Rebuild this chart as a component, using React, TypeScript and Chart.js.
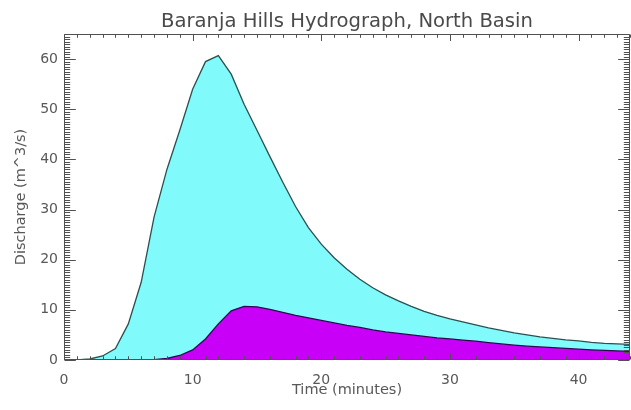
import { useEffect, useRef } from 'react';
import { Chart, registerables } from 'chart.js';

Chart.register(...registerables);

const TIME_MIN = [
  0, 1, 2, 3, 4, 5, 6, 7, 8, 9, 10, 11, 12, 13, 14, 15, 16, 17, 18, 19, 20, 21, 22,
  23, 24, 25, 26, 27, 28, 29, 30, 31, 32, 33, 34, 35, 36, 37, 38, 39, 40, 41, 42, 43, 44,
];
const TOTAL_Q = [
  0, 0, 0.2, 0.8, 2.3, 7.2, 15.5, 28.5, 38, 45.8, 54, 59.5, 60.7, 57, 51, 45.8, 40.6, 35.5,
  30.6, 26.4, 23.1, 20.4, 18.1, 16.1, 14.4, 13, 11.8, 10.7, 9.7, 8.9, 8.2, 7.6, 7.0, 6.4,
  5.9, 5.4, 5.0, 4.6, 4.3, 4.0, 3.8, 3.5, 3.3, 3.2, 3.1,
];
const BASE_Q = [
  0, 0, 0, 0, 0, 0, 0, 0.05, 0.3, 0.9, 2, 4.2, 7.2, 9.8, 10.7, 10.6, 10.1, 9.5, 8.9,
  8.4, 7.9, 7.4, 6.9, 6.5, 6.0, 5.6, 5.3, 5.0, 4.7, 4.4, 4.2, 3.95, 3.75, 3.45, 3.2,
  2.95, 2.75, 2.6, 2.45, 2.3, 2.15, 2.0, 1.9, 1.8, 1.7,
];
const X_TICKS = [0, 10, 20, 30, 40];
const Y_TICKS = [0, 10, 20, 30, 40, 50, 60];
const X_MINOR_STEP = 1;
const Y_MINOR_STEP = 0.5;
const X_RANGE = [0, 44];
const Y_RANGE = [0, 65];
const TITLE = 'Baranja Hills Hydrograph, North Basin';
const X_TITLE = 'Time (minutes)';
const Y_TITLE = 'Discharge (m^3/s)';

const AXIS_COLOR = '#505050';
const TEXT_COLOR = '#585858';
const FONT = 'DejaVu Sans';

const boxPlugin = {
  id: 'idlBox',
  afterDatasetsDraw(chart: any) {
    const { ctx, chartArea: a, scales } = chart;
    const xs = scales.x;
    const ys = scales.y;
    const left = Math.round(a.left) + 0.5;
    const right = Math.round(a.right) - 0.5;
    const top = Math.round(a.top) + 0.5;
    const bottom = Math.round(a.bottom) - 0.5;
    const w = a.right - a.left;
    const h = a.bottom - a.top;
    const xMajLen = 0.02 * h;
    const yMajLen = 0.02 * w;
    ctx.save();
    ctx.strokeStyle = AXIS_COLOR;
    ctx.lineWidth = 1;
    ctx.beginPath();
    const nx = Math.round((X_RANGE[1] - X_RANGE[0]) / X_MINOR_STEP);
    for (let i = 0; i <= nx; i++) {
      const v = X_RANGE[0] + i * X_MINOR_STEP;
      const major = X_TICKS.some((t) => Math.abs(t - v) < 1e-6);
      const len = major ? xMajLen : xMajLen / 2;
      const px = Math.round(xs.getPixelForValue(v)) + 0.5;
      ctx.moveTo(px, bottom);
      ctx.lineTo(px, bottom - len);
      ctx.moveTo(px, top);
      ctx.lineTo(px, top + len);
    }
    const ny = Math.round((Y_RANGE[1] - Y_RANGE[0]) / Y_MINOR_STEP);
    for (let i = 0; i <= ny; i++) {
      const v = Y_RANGE[0] + i * Y_MINOR_STEP;
      const major = Y_TICKS.some((t) => Math.abs(t - v) < 1e-6);
      const len = major ? yMajLen : yMajLen / 2;
      const py = Math.round(ys.getPixelForValue(v)) + 0.5;
      ctx.moveTo(left, py);
      ctx.lineTo(left + len, py);
      ctx.moveTo(right, py);
      ctx.lineTo(right - len, py);
    }
    ctx.stroke();
    ctx.beginPath();
    ctx.rect(left, top, right - left, bottom - top);
    ctx.stroke();
    ctx.restore();
  },
};

export default function App() {
  const ref = useRef<HTMLCanvasElement | null>(null);
  useEffect(() => {
    if (!ref.current) return;
    const chart = new Chart(ref.current, {
      type: 'line',
      data: {
        datasets: [
          {
            label: 'Base flow',
            data: TIME_MIN.map((t, i) => ({ x: t, y: BASE_Q[i] })),
            borderColor: '#2e0850',
            backgroundColor: '#c800f8',
            borderWidth: 1.3,
            fill: 'origin',
            pointRadius: 0,
            tension: 0,
          },
          {
            label: 'Total discharge',
            data: TIME_MIN.map((t, i) => ({ x: t, y: TOTAL_Q[i] })),
            borderColor: '#2c5050',
            backgroundColor: '#80fafa',
            borderWidth: 1.3,
            fill: 'origin',
            pointRadius: 0,
            tension: 0,
          },
        ],
      },
      options: {
        responsive: false,
        animation: false,
        layout: { padding: { left: 0, right: 1, top: 0, bottom: 0 } },
        plugins: {
          legend: { display: false },
          tooltip: { enabled: false },
          title: {
            display: true,
            text: TITLE,
            fullSize: false,
            color: '#4a4a4a',
            font: { family: FONT, size: 19.6, weight: 'normal', lineHeight: 1.2 },
            padding: { top: 10, bottom: 0.5 },
          },
        },
        scales: {
          x: {
            type: 'linear',
            min: X_RANGE[0],
            max: X_RANGE[1],
            grid: { display: false, drawTicks: false },
            border: { display: false },
            afterBuildTicks: (s: any) => {
              s.ticks = X_TICKS.map((v) => ({ value: v }));
            },
            afterFit: (s: any) => {
              s.height = 50;
            },
            ticks: {
              includeBounds: false,
              maxRotation: 0,
              autoSkip: false,
              padding: 12,
              color: TEXT_COLOR,
              font: { family: FONT, size: 14 },
            },
            title: {
              display: true,
              text: X_TITLE,
              color: TEXT_COLOR,
              font: { family: FONT, size: 14.5 },
              padding: { top: 0, bottom: 11 },
            },
          },
          y: {
            type: 'linear',
            min: Y_RANGE[0],
            max: Y_RANGE[1],
            grid: { display: false, drawTicks: false },
            border: { display: false },
            afterBuildTicks: (s: any) => {
              s.ticks = Y_TICKS.map((v) => ({ value: v }));
            },
            afterFit: (s: any) => {
              s.width = 64;
            },
            ticks: {
              includeBounds: false,
              autoSkip: false,
              padding: 6,
              color: TEXT_COLOR,
              font: { family: FONT, size: 14 },
            },
            title: {
              display: true,
              text: Y_TITLE,
              color: TEXT_COLOR,
              font: { family: FONT, size: 14.5 },
              padding: { top: 13, bottom: 0 },
            },
          },
        },
      },
      plugins: [boxPlugin],
    });
    return () => chart.destroy();
  }, []);
  return (
    <div style={{ position: 'fixed', left: 0, top: 0, width: 631, height: 410, background: '#fff' }}>
      <canvas ref={ref} width={631} height={410} style={{ width: 631, height: 410, display: 'block' }} />
    </div>
  );
}
